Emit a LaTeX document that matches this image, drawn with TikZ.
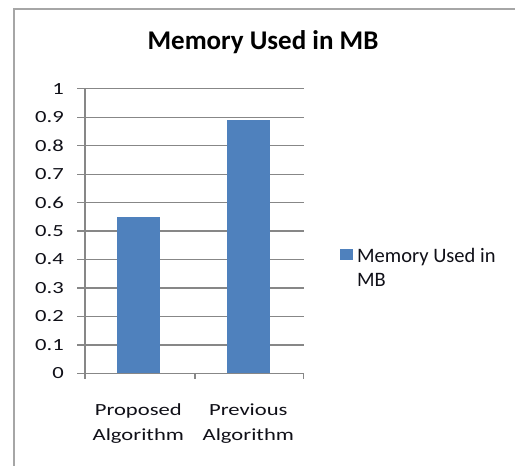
\documentclass[tikz,border=0pt]{standalone}
\usepackage{fontspec}
\usepackage{graphicx}
\setmainfont{Carlito}
\newcommand\widetxt[1]{\scalebox{1.33}[1]{#1}}
\definecolor{barblue}{HTML}{4F81BD}
\definecolor{gridgray}{HTML}{878787}
\definecolor{framegray}{HTML}{A6A6A6}
\definecolor{txt}{HTML}{101018}
\begin{document}
\begin{tikzpicture}[x=1pt,y=-1pt,
  grid/.style={draw=gridgray, line width=1.3pt},
  bar/.style={fill=barblue, draw=none},
  ylab/.style={anchor=east, inner sep=0pt, font=\fontsize{17}{17}\selectfont, text=txt},
  xlab/.style={anchor=base, inner sep=0pt, font=\fontsize{17}{17}\selectfont, text=txt},
  title/.style={inner sep=0pt, font=\bfseries\fontsize{27}{27}\selectfont, text=black},
  legtext/.style={anchor=base west, inner sep=0pt, font=\fontsize{20.5}{24}\selectfont, text=txt}]
\useasboundingbox (0,0) rectangle (515,466);
\fill[white] (0,0) rectangle (515,466);
% frame
\draw[framegray, line width=2pt] (14,480) -- (14,9) -- (530,9);
% title
\node[title] (ttl) at (263,42) {Memory Used in MB};
% grid lines and y labels
\foreach \v/\lab [count=\i] in {1/0.1,2/0.2,3/0.3,4/0.4,5/0.5,6/0.6,7/0.7,8/0.8,9/0.9,10/1} {
  \draw[grid] (77,{373.3-28.45*\v}) -- (304,{373.3-28.45*\v});
  \node[ylab] (y\i) at (64,{373.3-28.45*\v}) {\widetxt{\lab}};
}
\node[ylab] (y0) at (64,373.3) {\widetxt{0}};
% bars
\path[bar] (116.7,373.3) rectangle (160,{373.3-28.45*5.5});
\path[bar] (226.7,373.3) rectangle (270,{373.3-28.45*8.9});
% axes
\draw[grid] (85,{373.3-28.45*10}) -- (85,379);
\draw[grid] (77,373.3) -- (304,373.3);
\draw[grid] (195,373.3) -- (195,379);
\draw[grid] (303.3,373.3) -- (303.3,379);
% category labels
\node[xlab] (c1a) at (138.3,415) {\widetxt{Proposed}};
\node[xlab] (c1b) at (138.3,440) {\widetxt{Algorithm}};
\node[xlab] (c2a) at (248.3,415) {\widetxt{Previous}};
\node[xlab] (c2b) at (248.3,440) {\widetxt{Algorithm}};
% legend
\path[bar] (340,249) rectangle (353,260);
\node[legtext] (leg1) at (357,262) {Memory Used in};
\node[legtext] (leg2) at (357,286) {MB};
\end{tikzpicture}
\end{document}
